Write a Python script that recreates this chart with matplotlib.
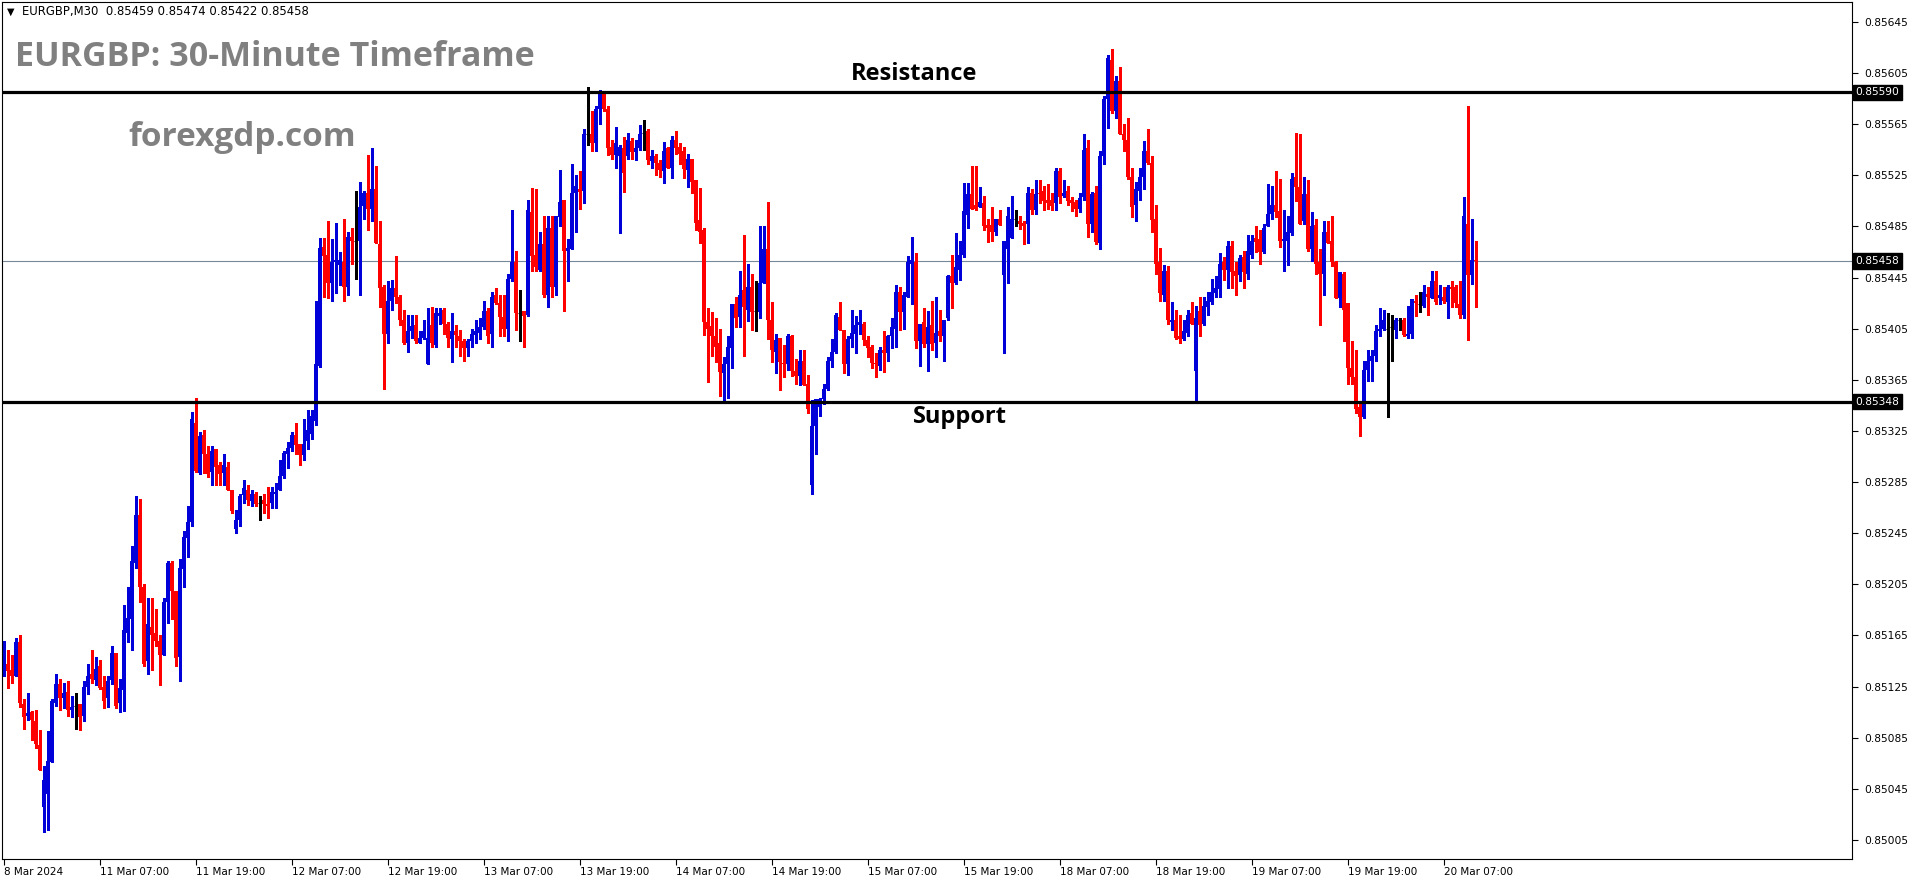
import matplotlib
matplotlib.use("Agg")
import matplotlib.pyplot as plt
import matplotlib.transforms as mtransforms
import numpy as np

W, H = 1916, 884
BASE = 0.85   # candle values below are in points (0.00001) above BASE
PT = 1e-5

# EURGBP M30 candles
opens = [
    140, 143, 138, 133, 160, 111, 102, 105, 98, 79, 31, 41, 66, 112, 127, 116, 121, 107, 110, 111, 102, 125, 135, 130,
    141, 125, 116, 130, 151, 112, 122, 167, 178, 222, 259, 203, 145, 172, 167, 161, 150, 191, 222, 200, 148, 217, 241, 254,
    331, 292, 322, 307, 293, 311, 298, 292, 297, 279, 248, 255, 275, 279, 270, 276, 269, 271, 268, 269, 276, 279, 290, 307,
    312, 322, 315, 306, 317, 323, 333, 376, 469, 463, 441, 457, 455, 457, 438, 477, 474, 474, 501, 511, 499, 514, 471, 438,
    401, 427, 437, 430, 412, 394, 403, 408, 394, 398, 377, 408, 392, 415, 420, 409, 397, 403, 399, 395, 390, 395, 400, 402,
    406, 419, 401, 431, 425, 414, 405, 444, 457, 417, 419, 416, 496, 463, 451, 471, 431, 484, 438, 492, 506, 466, 467, 511,
    514, 513, 557, 557, 550, 577, 589, 577, 547, 541, 540, 546, 540, 552, 543, 546, 558, 560, 536, 540, 535, 528, 546, 531,
    553, 547, 544, 529, 538, 521, 490, 482, 410, 407, 399, 394, 370, 377, 390, 424, 414, 435, 420, 438, 419, 418, 441, 467,
    412, 387, 398, 378, 377, 399, 372, 368, 380, 362, 283, 329, 344, 350, 358, 380, 387, 414, 404, 377, 397, 401, 408, 409,
    396, 391, 378, 376, 388, 386, 399, 405, 434, 418, 430, 456, 457, 395, 410, 393, 408, 394, 403, 399, 413, 446, 441, 451,
    463, 494, 510, 502, 500, 503, 486, 486, 481, 491, 447, 467, 476, 491, 489, 488, 487, 511, 498, 511, 513, 506, 506, 503,
    528, 509, 513, 506, 504, 499, 508, 546, 487, 511, 472, 540, 585, 615, 575, 599, 557, 553, 524, 502, 513, 524, 544, 535,
    491, 457, 431, 450, 410, 412, 399, 397, 402, 417, 372, 419, 409, 422, 426, 433, 436, 457, 451, 470, 450, 447, 461, 448,
    463, 476, 475, 465, 485, 495, 502, 497, 474, 474, 480, 524, 516, 489, 510, 467, 486, 457, 448, 481, 474, 457, 429, 448,
    425, 374, 367, 344, 336, 373, 380, 384, 403, 405, 405, 406, 404, 412, 412, 399, 401, 427, 424, 423, 432, 429, 442, 429,
    430, 426, 438, 438, 424, 416, 487, 447, 459,
]
highs = [
    161, 154, 150, 163, 165, 115, 120, 106, 107, 91, 63, 90, 115, 135, 131, 128, 129, 118, 120, 111, 129, 143, 154, 148,
    146, 133, 133, 157, 151, 131, 189, 203, 235, 274, 272, 205, 194, 194, 186, 165, 194, 223, 223, 200, 225, 247, 266, 340,
    351, 324, 326, 313, 313, 311, 301, 307, 301, 279, 263, 276, 287, 283, 279, 277, 274, 276, 281, 281, 284, 302, 309, 316,
    324, 331, 315, 334, 341, 341, 427, 476, 476, 489, 475, 488, 465, 491, 481, 484, 513, 520, 513, 541, 546, 532, 489, 439,
    442, 443, 462, 431, 420, 416, 416, 416, 403, 412, 421, 422, 421, 421, 421, 410, 417, 408, 404, 397, 397, 405, 412, 413,
    427, 421, 434, 437, 431, 431, 448, 498, 466, 435, 419, 506, 515, 514, 481, 493, 493, 493, 493, 529, 506, 475, 534, 525,
    528, 561, 594, 575, 579, 592, 591, 579, 553, 563, 549, 555, 558, 554, 553, 564, 568, 561, 545, 542, 537, 551, 547, 556,
    560, 550, 547, 542, 538, 521, 515, 484, 421, 418, 413, 405, 383, 399, 424, 430, 450, 478, 456, 448, 442, 485, 485, 504,
    426, 401, 398, 392, 401, 400, 381, 388, 388, 369, 349, 350, 351, 362, 383, 397, 417, 426, 404, 399, 420, 415, 420, 410,
    399, 392, 386, 391, 403, 400, 413, 439, 438, 434, 462, 477, 464, 409, 421, 419, 427, 430, 420, 412, 447, 463, 480, 474,
    519, 519, 532, 532, 516, 509, 491, 500, 491, 498, 474, 500, 509, 498, 493, 489, 516, 514, 521, 521, 517, 518, 511, 531,
    531, 521, 517, 508, 506, 511, 557, 553, 512, 517, 544, 587, 619, 624, 603, 610, 565, 570, 531, 520, 531, 552, 561, 540,
    502, 468, 455, 454, 426, 420, 416, 412, 420, 426, 423, 430, 430, 434, 444, 446, 464, 461, 474, 474, 457, 463, 466, 478,
    478, 485, 482, 487, 518, 517, 528, 522, 498, 493, 527, 558, 557, 524, 521, 496, 491, 467, 489, 489, 493, 458, 449, 449,
    425, 395, 388, 347, 380, 388, 388, 408, 421, 420, 417, 416, 413, 413, 413, 423, 428, 431, 434, 439, 438, 450, 450, 439,
    438, 439, 442, 439, 442, 508, 579, 491, 474,
]
lows = [
    133, 124, 128, 133, 109, 92, 99, 83, 77, 60, 11, 13, 66, 110, 107, 108, 102, 101, 92, 91, 98, 119, 128, 126,
    123, 108, 109, 127, 108, 105, 106, 160, 154, 218, 191, 141, 135, 138, 157, 126, 150, 175, 178, 141, 129, 203, 226, 251,
    293, 291, 292, 289, 283, 283, 283, 283, 279, 261, 245, 251, 269, 267, 266, 266, 255, 261, 257, 265, 265, 279, 288, 296,
    309, 307, 298, 302, 311, 319, 330, 375, 430, 429, 427, 433, 439, 427, 431, 456, 444, 431, 491, 482, 489, 472, 422, 358,
    394, 420, 425, 408, 393, 387, 398, 394, 394, 397, 377, 391, 391, 409, 401, 391, 379, 391, 384, 380, 384, 391, 394, 397,
    405, 394, 391, 424, 399, 399, 395, 442, 404, 395, 391, 415, 450, 450, 450, 430, 422, 430, 431, 485, 419, 442, 467, 481,
    499, 503, 549, 544, 544, 565, 575, 541, 538, 531, 480, 512, 538, 538, 537, 545, 545, 534, 531, 525, 524, 519, 531, 523,
    542, 534, 523, 516, 511, 482, 472, 400, 363, 384, 379, 352, 348, 351, 374, 406, 406, 384, 411, 404, 403, 413, 441, 397,
    379, 370, 357, 367, 373, 368, 362, 361, 361, 339, 276, 307, 337, 346, 357, 375, 386, 404, 370, 369, 391, 386, 401, 392,
    383, 374, 367, 373, 371, 380, 390, 391, 404, 405, 430, 424, 390, 376, 391, 372, 388, 383, 395, 380, 412, 421, 440, 443,
    461, 484, 499, 498, 500, 482, 473, 474, 478, 486, 386, 441, 476, 485, 483, 471, 472, 495, 495, 503, 498, 499, 498, 498,
    503, 508, 502, 497, 493, 496, 506, 477, 481, 471, 467, 534, 562, 574, 570, 557, 544, 522, 492, 489, 506, 514, 534, 481,
    448, 427, 427, 409, 404, 397, 394, 396, 399, 409, 349, 399, 408, 416, 424, 430, 430, 443, 437, 437, 431, 442, 437, 444,
    460, 465, 456, 464, 485, 491, 492, 469, 450, 455, 478, 505, 487, 487, 466, 458, 448, 408, 431, 472, 454, 429, 422, 395,
    362, 362, 339, 321, 335, 364, 364, 380, 399, 404, 336, 380, 398, 404, 399, 398, 398, 415, 418, 422, 416, 429, 424, 424,
    425, 413, 422, 422, 413, 413, 396, 440, 422,
]
closes = [
    144, 137, 133, 160, 112, 101, 104, 99, 80, 60, 52, 67, 114, 127, 116, 120, 107, 109, 110, 101, 125, 133, 131, 139,
    124, 114, 129, 151, 110, 124, 169, 179, 223, 259, 203, 143, 174, 165, 161, 150, 191, 222, 200, 147, 218, 242, 254, 334,
    294, 321, 307, 291, 309, 297, 291, 298, 279, 262, 255, 274, 280, 271, 276, 268, 269, 268, 266, 277, 277, 290, 308, 312,
    322, 314, 306, 315, 326, 337, 377, 468, 462, 441, 457, 459, 459, 438, 477, 474, 474, 500, 511, 499, 514, 472, 437, 401,
    427, 437, 430, 412, 394, 403, 407, 395, 398, 403, 398, 394, 417, 417, 409, 398, 403, 400, 395, 390, 395, 401, 403, 406,
    419, 399, 430, 425, 414, 405, 444, 457, 417, 417, 415, 498, 462, 453, 471, 431, 484, 438, 493, 504, 466, 468, 511, 517,
    512, 557, 557, 550, 577, 589, 577, 546, 541, 550, 547, 527, 553, 543, 546, 557, 558, 537, 540, 535, 529, 544, 531, 553,
    546, 542, 530, 538, 520, 488, 481, 410, 405, 399, 391, 371, 377, 391, 424, 413, 431, 422, 438, 418, 419, 441, 467, 412,
    388, 396, 379, 377, 399, 372, 368, 380, 361, 342, 329, 350, 350, 358, 380, 387, 416, 404, 377, 397, 402, 408, 410, 396,
    390, 378, 377, 388, 386, 399, 406, 434, 418, 431, 457, 459, 395, 409, 393, 406, 393, 402, 399, 412, 446, 441, 453, 463,
    497, 510, 499, 499, 504, 485, 484, 481, 491, 486, 474, 493, 491, 491, 487, 485, 511, 498, 510, 510, 505, 503, 501, 528,
    508, 511, 505, 503, 499, 507, 545, 487, 510, 473, 540, 585, 617, 575, 599, 557, 553, 524, 500, 514, 524, 544, 535, 490,
    456, 433, 450, 412, 412, 398, 397, 403, 416, 409, 413, 408, 423, 427, 434, 437, 456, 451, 470, 449, 446, 460, 449, 466,
    474, 473, 465, 484, 495, 502, 496, 474, 475, 481, 522, 516, 487, 510, 467, 485, 456, 448, 481, 472, 457, 429, 449, 420,
    374, 367, 342, 336, 373, 380, 384, 403, 405, 412, 405, 406, 412, 412, 400, 401, 428, 425, 424, 434, 430, 442, 426, 431,
    427, 438, 436, 425, 416, 493, 447, 459, 458,
]

time_labels = ["8 Mar 2024", "11 Mar 07:00", "11 Mar 19:00", "12 Mar 07:00", "12 Mar 19:00",
               "13 Mar 07:00", "13 Mar 19:00", "14 Mar 07:00", "14 Mar 19:00", "15 Mar 07:00",
               "15 Mar 19:00", "18 Mar 07:00", "18 Mar 19:00", "19 Mar 07:00", "19 Mar 19:00",
               "20 Mar 07:00"]
label_bars = [0, 24, 48, 72, 96, 120, 144, 168, 192, 216, 240, 264, 288, 312, 336, 360]
price_ticks = [0.85005, 0.85045, 0.85085, 0.85125, 0.85165, 0.85205, 0.85245, 0.85285, 0.85325,
               0.85365, 0.85405, 0.85445, 0.85485, 0.85525, 0.85565, 0.85605, 0.85645]
resistance = 0.85590
support = 0.85348
last_price = 0.85458
header = "EURGBP,M30  0.85459 0.85474 0.85422 0.85458"

BLUE = "#0000D8"
RED = "#FF0000"

o = BASE + np.array(opens) * PT
hi = BASE + np.array(highs) * PT
lo = BASE + np.array(lows) * PT
c = BASE + np.array(closes) * PT
hi = np.maximum(hi, np.maximum(o, c))
lo = np.minimum(lo, np.minimum(o, c))
x = np.arange(len(o))

fig = plt.figure(figsize=(W / 100, H / 100), dpi=100)
fig.patch.set_facecolor("white")
ax = fig.add_axes([2 / W, 25 / H, 1850 / W, 857 / H])
ax.set_xlim(-0.375, 462.125)
ax.set_ylim(BASE - 9.9 * PT, BASE + 660.6 * PT)

# levels
ax.axhline(last_price, color="#778899", lw=0.8, zorder=1)
ax.axhline(resistance, color="black", lw=2.3, zorder=3)
ax.axhline(support, color="black", lw=2.3, zorder=3)

# candles
col = np.where(c > o, BLUE, np.where(c < o, RED, "black"))
ax.vlines(x, lo, hi, colors=col, lw=0.75, zorder=2, antialiased=False)
body = c != o
ax.bar(x[body], np.abs(c - o)[body], bottom=np.minimum(o, c)[body], width=0.75,
       color=col[body], lw=0, zorder=2, antialiased=False)
ax.hlines(o[~body], x[~body] - 0.4, x[~body] + 0.4, colors="black", lw=0.75, zorder=2)

for s in ax.spines.values():
    s.set_color("black")
    s.set_linewidth(0.8)

ax.yaxis.tick_right()
ax.set_yticks(price_ticks)
ax.set_yticklabels([f"{p:.5f}" for p in price_ticks])
ax.tick_params(axis="y", direction="out", length=4, width=0.8, labelsize=7.7, pad=5)
ax.set_xticks(label_bars)
ax.set_xticklabels(time_labels, ha="left")
ax.tick_params(axis="x", direction="out", length=4, width=0.8, labelsize=7.5, pad=2)

# highlighted price boxes on the scale
trans = mtransforms.blended_transform_factory(ax.transAxes, ax.transData)
for val in (resistance, last_price, support):
    ax.annotate(f"{val:.5f}", xy=(1, val), xycoords=trans, xytext=(2.5, 0), textcoords="offset points",
                ha="left", va="center", fontsize=7.7, color="white", annotation_clip=False,
                bbox=dict(boxstyle="square,pad=0.25", fc="black", ec="black"))

# texts
fig.text(7 / W, 1 - 12 / H, "\u25bc", fontsize=7, va="center")
fig.text(22 / W, 1 - 12 / H, header, fontsize=8.4, va="center")
fig.text(15 / W, 1 - 57 / H, "EURGBP: 30-Minute Timeframe", fontsize=24.5, fontweight="bold",
         family="Open Sans", color="#808080", va="center")
fig.text(128 / W, 1 - 138 / H, "forexgdp.com", fontsize=24, fontweight="bold",
         family="Open Sans", color="#808080", va="center")
fig.text(914 / W, 1 - 74 / H, "Resistance", fontsize=17, fontweight="bold",
         family="Open Sans", color="black", ha="center", va="center")
fig.text(960 / W, 1 - 417 / H, "Support", fontsize=17, fontweight="bold",
         family="Open Sans", color="black", ha="center", va="center")

fig.savefig("out.png", dpi=100)
